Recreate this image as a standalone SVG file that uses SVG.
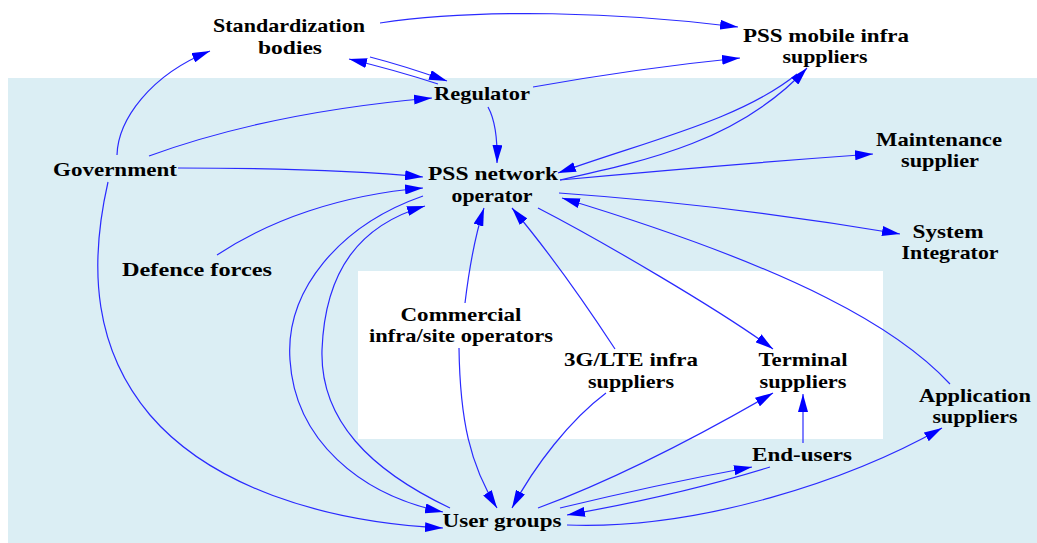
<svg xmlns="http://www.w3.org/2000/svg" width="1037" height="543" viewBox="0 0 1037 543">
  <defs>
    <marker id="arr" viewBox="0 0 18 10" refX="18" refY="5" markerWidth="18" markerHeight="10" markerUnits="userSpaceOnUse" orient="auto">
      <path d="M0,0 L18,5 L0,10 z" fill="#0000ff"/>
    </marker>
    <style>
      .lbl { font-family: "Liberation Serif", "Times New Roman", serif; font-weight: bold; font-size: 19px; fill: #000; text-anchor: middle; }
      .edge { fill: none; stroke: #2a2aff; stroke-width: 1.2; marker-end: url(#arr); }
    </style>
  </defs>

  <!-- background zones -->
  <rect x="0" y="0" width="1037" height="543" fill="#ffffff"/>
  <rect x="8" y="78" width="1029" height="465" fill="#dbeef4"/>
  <rect x="358" y="271" width="525" height="168" fill="#ffffff"/>

  <!-- connectors -->
  <g id="connectors">
    <path class="edge" d="M380,23 C480,8 620,12 738,27"/>
    <path class="edge" d="M533,87 Q640,68 740,58"/>
    <path class="edge" d="M370,57 Q405,66 447,81"/>
    <path class="edge" d="M438,84 Q395,70 349,59"/>
    <path class="edge" d="M149,156 Q270,112 432,98"/>
    <path class="edge" d="M178,168 Q330,168 423,177"/>
    <path class="edge" d="M117,155 C118,120 150,75 210,51"/>
    <path class="edge" d="M108,182 C88,270 95,350 150,415 C210,485 320,522 443,528"/>
    <path class="edge" d="M217,255 C270,220 340,195 423,188"/>
    <path class="edge" d="M423,196 C340,225 285,290 290,360 C295,440 360,495 443,512"/>
    <path class="edge" d="M450,508 C370,470 320,420 322,350 C325,270 360,225 425,206"/>
    <path class="edge" d="M488,107 Q498,125 497,163"/>
    <path class="edge" d="M465,303 Q472,245 484,208"/>
    <path class="edge" d="M459,348 C460,420 470,465 497,508"/>
    <path class="edge" d="M615,349 Q560,265 512,208"/>
    <path class="edge" d="M606,393 C570,420 535,465 512,508"/>
    <path class="edge" d="M538,208 C600,240 720,310 773,349"/>
    <path class="edge" d="M950,384 C900,330 800,270 562,198"/>
    <path class="edge" d="M559,193 Q730,205 900,234"/>
    <path class="edge" d="M560,180 Q720,165 873,154"/>
    <path class="edge" d="M797,74 C740,120 650,140 558,173"/>
    <path class="edge" d="M560,180 C650,160 740,140 807,68"/>
    <path class="edge" d="M538,508 Q640,470 773,393"/>
    <path class="edge" d="M803,443 L803,394"/>
    <path class="edge" d="M560,508 Q655,485 752,467"/>
    <path class="edge" d="M770,467 Q680,495 567,515"/>
    <path class="edge" d="M567,525 C700,530 850,480 942,428"/>
  </g>

  <!-- nodes -->
  <g id="standardization">
    <text class="lbl" x="289" y="32" textLength="152" lengthAdjust="spacingAndGlyphs">Standardization</text>
    <text class="lbl" x="290" y="54" textLength="64" lengthAdjust="spacingAndGlyphs">bodies</text>
  </g>
  <g id="pss-mobile">
    <text class="lbl" x="826" y="42" textLength="166" lengthAdjust="spacingAndGlyphs">PSS mobile infra</text>
    <text class="lbl" x="825" y="63" textLength="85" lengthAdjust="spacingAndGlyphs">suppliers</text>
  </g>
  <g id="regulator">
    <text class="lbl" x="482" y="100" textLength="96" lengthAdjust="spacingAndGlyphs">Regulator</text>
  </g>
  <g id="pss-operator">
    <text class="lbl" x="493" y="180" textLength="130" lengthAdjust="spacingAndGlyphs">PSS network</text>
    <text class="lbl" x="492" y="202" textLength="81" lengthAdjust="spacingAndGlyphs">operator</text>
  </g>
  <g id="government">
    <text class="lbl" x="115" y="176" textLength="124" lengthAdjust="spacingAndGlyphs">Government</text>
  </g>
  <g id="defence">
    <text class="lbl" x="197" y="276" textLength="150" lengthAdjust="spacingAndGlyphs">Defence forces</text>
  </g>
  <g id="maintenance">
    <text class="lbl" x="939" y="146" textLength="126" lengthAdjust="spacingAndGlyphs">Maintenance</text>
    <text class="lbl" x="940" y="167" textLength="78" lengthAdjust="spacingAndGlyphs">supplier</text>
  </g>
  <g id="system-integrator">
    <text class="lbl" x="948" y="238" textLength="71" lengthAdjust="spacingAndGlyphs">System</text>
    <text class="lbl" x="950" y="259" textLength="97" lengthAdjust="spacingAndGlyphs">Integrator</text>
  </g>
  <g id="commercial">
    <text class="lbl" x="461" y="321" textLength="121" lengthAdjust="spacingAndGlyphs">Commercial</text>
    <text class="lbl" x="461" y="342" textLength="184" lengthAdjust="spacingAndGlyphs">infra/site operators</text>
  </g>
  <g id="lte">
    <text class="lbl" x="631" y="366" textLength="134" lengthAdjust="spacingAndGlyphs">3G/LTE infra</text>
    <text class="lbl" x="631" y="388" textLength="86" lengthAdjust="spacingAndGlyphs">suppliers</text>
  </g>
  <g id="terminal">
    <text class="lbl" x="803" y="366" textLength="89" lengthAdjust="spacingAndGlyphs">Terminal</text>
    <text class="lbl" x="803" y="388" textLength="87" lengthAdjust="spacingAndGlyphs">suppliers</text>
  </g>
  <g id="application">
    <text class="lbl" x="975" y="402" textLength="112" lengthAdjust="spacingAndGlyphs">Application</text>
    <text class="lbl" x="975" y="423" textLength="85" lengthAdjust="spacingAndGlyphs">suppliers</text>
  </g>
  <g id="end-users">
    <text class="lbl" x="802" y="461" textLength="100" lengthAdjust="spacingAndGlyphs">End-users</text>
  </g>
  <g id="user-groups">
    <text class="lbl" x="502" y="527" textLength="119" lengthAdjust="spacingAndGlyphs">User groups</text>
  </g>
</svg>
